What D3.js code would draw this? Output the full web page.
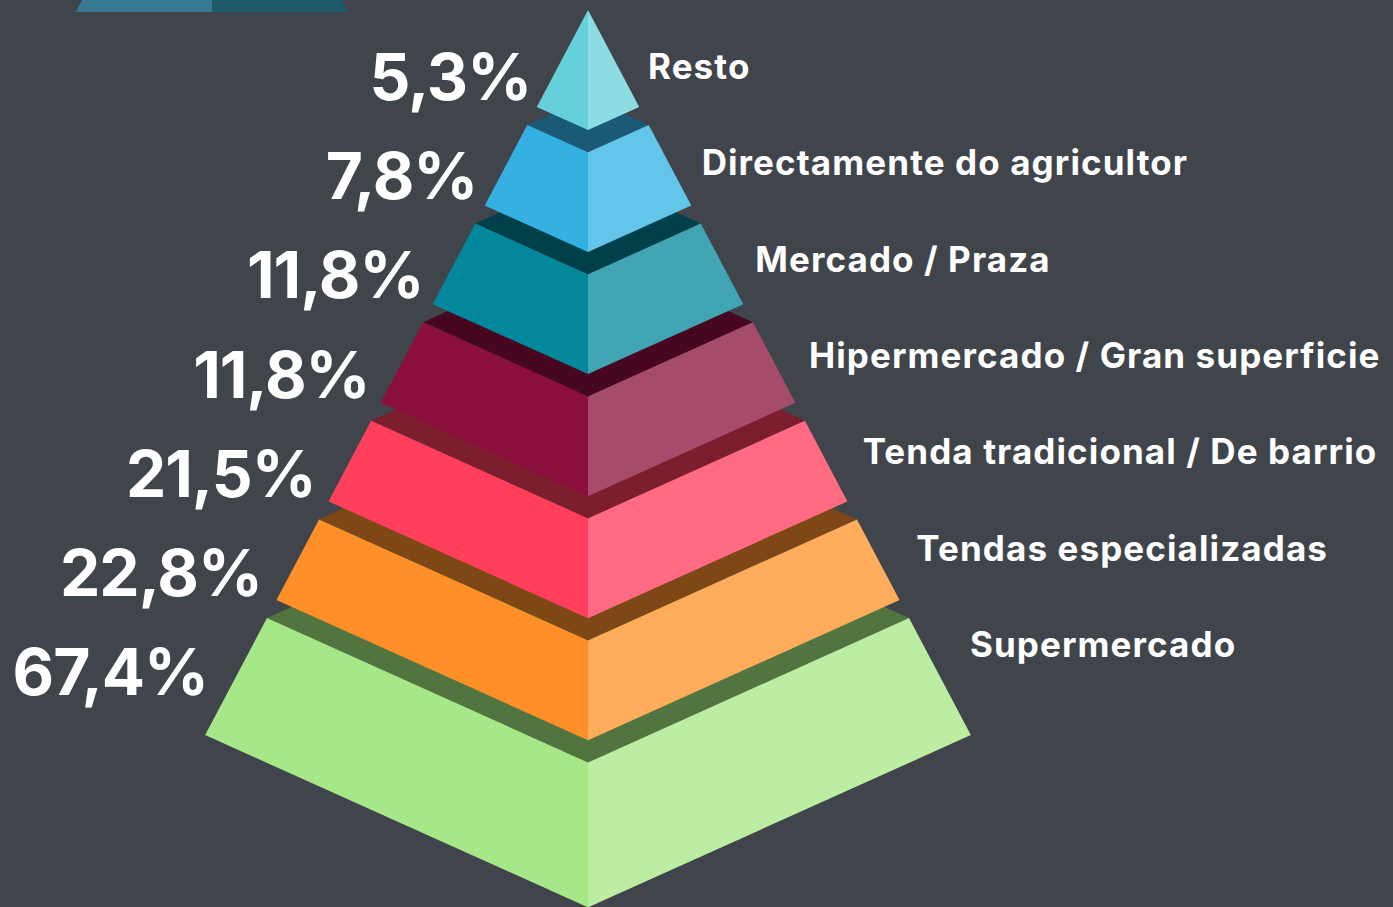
<!DOCTYPE html>
<html>
<head>
<meta charset="utf-8">
<script src="https://cdn.jsdelivr.net/npm/d3@7"></script>
<style>
  body { margin: 0; background: #40444b; }
  svg { display: block; }
</style>
</head>
<body>
<div id="chart"></div>
<script>
// data (top of the pyramid first)
const categories = [
  "Resto",
  "Directamente do agricultor",
  "Mercado / Praza",
  "Hipermercado / Gran superficie",
  "Tenda tradicional / De barrio",
  "Tendas especializadas",
  "Supermercado"
];
const values = [5.3, 7.8, 11.8, 11.8, 21.5, 22.8, 67.4];

const width = 1393, height = 907;
const n = categories.length;

// colours for each tier: left face, right face, top (shadow)
const leftColor = d3.scaleOrdinal(categories,
  ["#65d0da", "#34b0e3", "#02879b", "#8b0f3c", "#ff3f5c", "#ff9029", "#a6e887"]);
const rightColor = d3.scaleOrdinal(categories,
  ["#8ddce3", "#64c5ea", "#41a4b2", "#a44c6a", "#ff6b82", "#ffad5d", "#bbeda2"]);
const topColor = d3.scaleOrdinal(categories,
  ["#1b5a74", "#1b5a74", "#00404b", "#470720", "#7d1e2e", "#7e4816", "#527540"]);

// pyramid geometry
const cx = 588, apexY = 10;
const slope = 0.528;   // half width grows this much per px down
const dip = 0.45;      // depth of the front corner relative to half width
const gap = 18;

// bottom corner of each tier
const yTier = d3.scaleLinear().domain([0, n - 2]).range([107, 600]);
const bottomY = i => yTier(i === n - 1 ? i + 0.37 : i);
const topY = i => i === 0 ? apexY : bottomY(i - 1) + gap;
const hw = y => slope * (y - apexY);

// label baselines
const yPct = d3.scaleLinear().domain([0, n - 1]).range([100, 695]);
const yName = d3.scaleLinear().domain([0, n - 1]).range([79, 657]);

const fmt = d3.format(".1f");

const svg = d3.select("#chart")
  .append("svg")
  .attr("width", width)
  .attr("height", height);

svg.append("rect")
  .attr("width", width)
  .attr("height", height)
  .attr("fill", "#40444b");

// cut off piece of the header at the top left
svg.append("polygon")
  .attr("points", [[76, 12], [82, 0], [212, 0], [212, 12]].join(" "))
  .attr("fill", "#387a93");
svg.append("polygon")
  .attr("points", [[212, 12], [212, 0], [342, 0], [347, 12]].join(" "))
  .attr("fill", "#1f5a68");

const line = d3.line();

const tiers = categories.map((c, i) => {
  const yT = topY(i), yB = bottomY(i);
  const hT = hw(yT), hB = hw(yB);
  return {
    name: c,
    value: values[i],
    i: i,
    top: [[cx - hT, yT], [cx, yT - dip * hT], [cx + hT, yT], [cx, yT + dip * hT]],
    left: [[cx - hT, yT], [cx, yT + dip * hT], [cx, yB + dip * hB], [cx - hB, yB]],
    right: [[cx + hT, yT], [cx, yT + dip * hT], [cx, yB + dip * hB], [cx + hB, yB]]
  };
});

// draw from the bottom tier up
const g = svg.append("g")
  .selectAll("g")
  .data(tiers.slice().reverse())
  .join("g");

g.filter(d => d.i > 0)
  .append("path")
  .attr("d", d => line(d.top) + "Z")
  .attr("fill", d => topColor(d.name));

g.append("path")
  .attr("d", d => line(d.left) + "Z")
  .attr("fill", d => leftColor(d.name));

g.append("path")
  .attr("d", d => line(d.right) + "Z")
  .attr("fill", d => rightColor(d.name));

// percentages on the left
svg.append("g")
  .selectAll("text")
  .data(tiers)
  .join("text")
  .attr("x", d => cx - 0.543 * (yPct(d.i) - apexY) - 8)
  .attr("y", d => yPct(d.i))
  .attr("text-anchor", "end")
  .attr("fill", "#ffffff")
  .style("font-family", "Inter, 'Noto Sans', sans-serif")
  .style("font-weight", 700)
  .style("font-size", "64px")
  .style("letter-spacing", "-1px")
  .text(d => fmt(d.value).replace(".", ",") + "%");

// category names on the right
svg.append("g")
  .selectAll("text")
  .data(tiers)
  .join("text")
  .attr("x", d => 648 + 0.557 * (yName(d.i) - yName(0)))
  .attr("y", d => yName(d.i))
  .attr("fill", "#ffffff")
  .style("font-family", "Inter, 'Noto Sans', sans-serif")
  .style("font-weight", 700)
  .style("font-size", "35px")
  .style("letter-spacing", "1.1px")
  .text(d => d.name);
</script>
</body>
</html>
